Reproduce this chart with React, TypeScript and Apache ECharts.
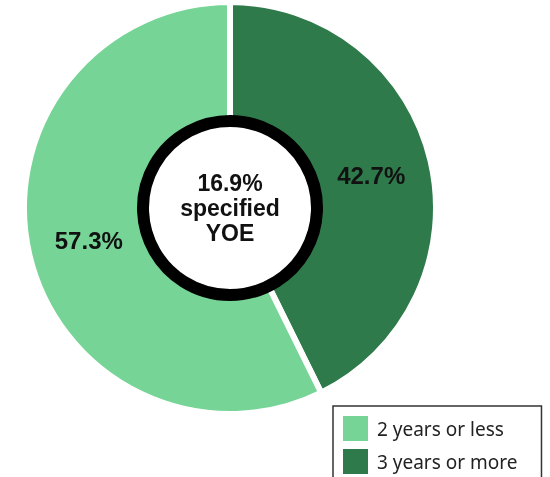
import React, { useEffect, useRef } from "react";
import * as echarts from "echarts";

const categories = ["3 years or more", "2 years or less"];
const values = [42.7, 57.3];
const colors = ["#2F7A4B", "#76D496"];
const legendOrder = ["2 years or less", "3 years or more"];
const centerText = "16.9%\nspecified\nYOE";

export default function App() {
  const ref = useRef<HTMLDivElement>(null);
  useEffect(() => {
    if (!ref.current) return;
    const chart = echarts.init(ref.current, null, { renderer: "svg" });
    chart.setOption({
      animation: false,
      color: colors,
      legend: {
        data: legendOrder,
        orient: "vertical",
        left: 333,
        top: 406,
        height: 90,
        itemWidth: 27,
        itemHeight: 27,
        itemGap: 4,
        icon: "rect",
        borderColor: "#333",
        borderWidth: 1.5,
        borderRadius: 0,
        padding: [8, 24, 8, 8],
        textStyle: { fontSize: 19, color: "#222", fontFamily: "Noto Sans", padding: [0, 0, 0, 3] },
        selectedMode: false,
      },
      series: [
        {
          type: "pie",
          center: [230, 208],
          radius: [78, 206],
          startAngle: 90,
          clockwise: true,
          silent: true,
          itemStyle: { borderColor: "#fff", borderWidth: 6 },
          label: {
            show: true,
            position: "inside",
            formatter: (p: any) => p.value.toFixed(1) + "%",
            fontFamily: "Liberation Sans",
            fontWeight: "bold",
            fontSize: 24,
            color: "#111",
          },
          labelLine: { show: false },
          data: categories.map((c, i) => ({ name: c, value: values[i], itemStyle: { color: colors[i] } })),
        },
        {
          type: "pie",
          center: [230, 208],
          radius: [0, 87],
          silent: true,
          z: 5,
          itemStyle: { color: "#fff", borderColor: "#000", borderWidth: 12 },
          label: {
            show: true,
            position: "center",
            formatter: centerText,
            fontFamily: "Liberation Sans",
            fontWeight: "bold",
            fontSize: 23,
            lineHeight: 25,
            color: "#111",
          },
          labelLine: { show: false },
          data: [{ name: "center", value: 1 }],
        },
      ],
    });
    return () => chart.dispose();
  }, []);
  return (
    <div
      ref={ref}
      style={{ position: "fixed", left: 0, top: 0, width: 550, height: 477 }}
    />
  );
}
